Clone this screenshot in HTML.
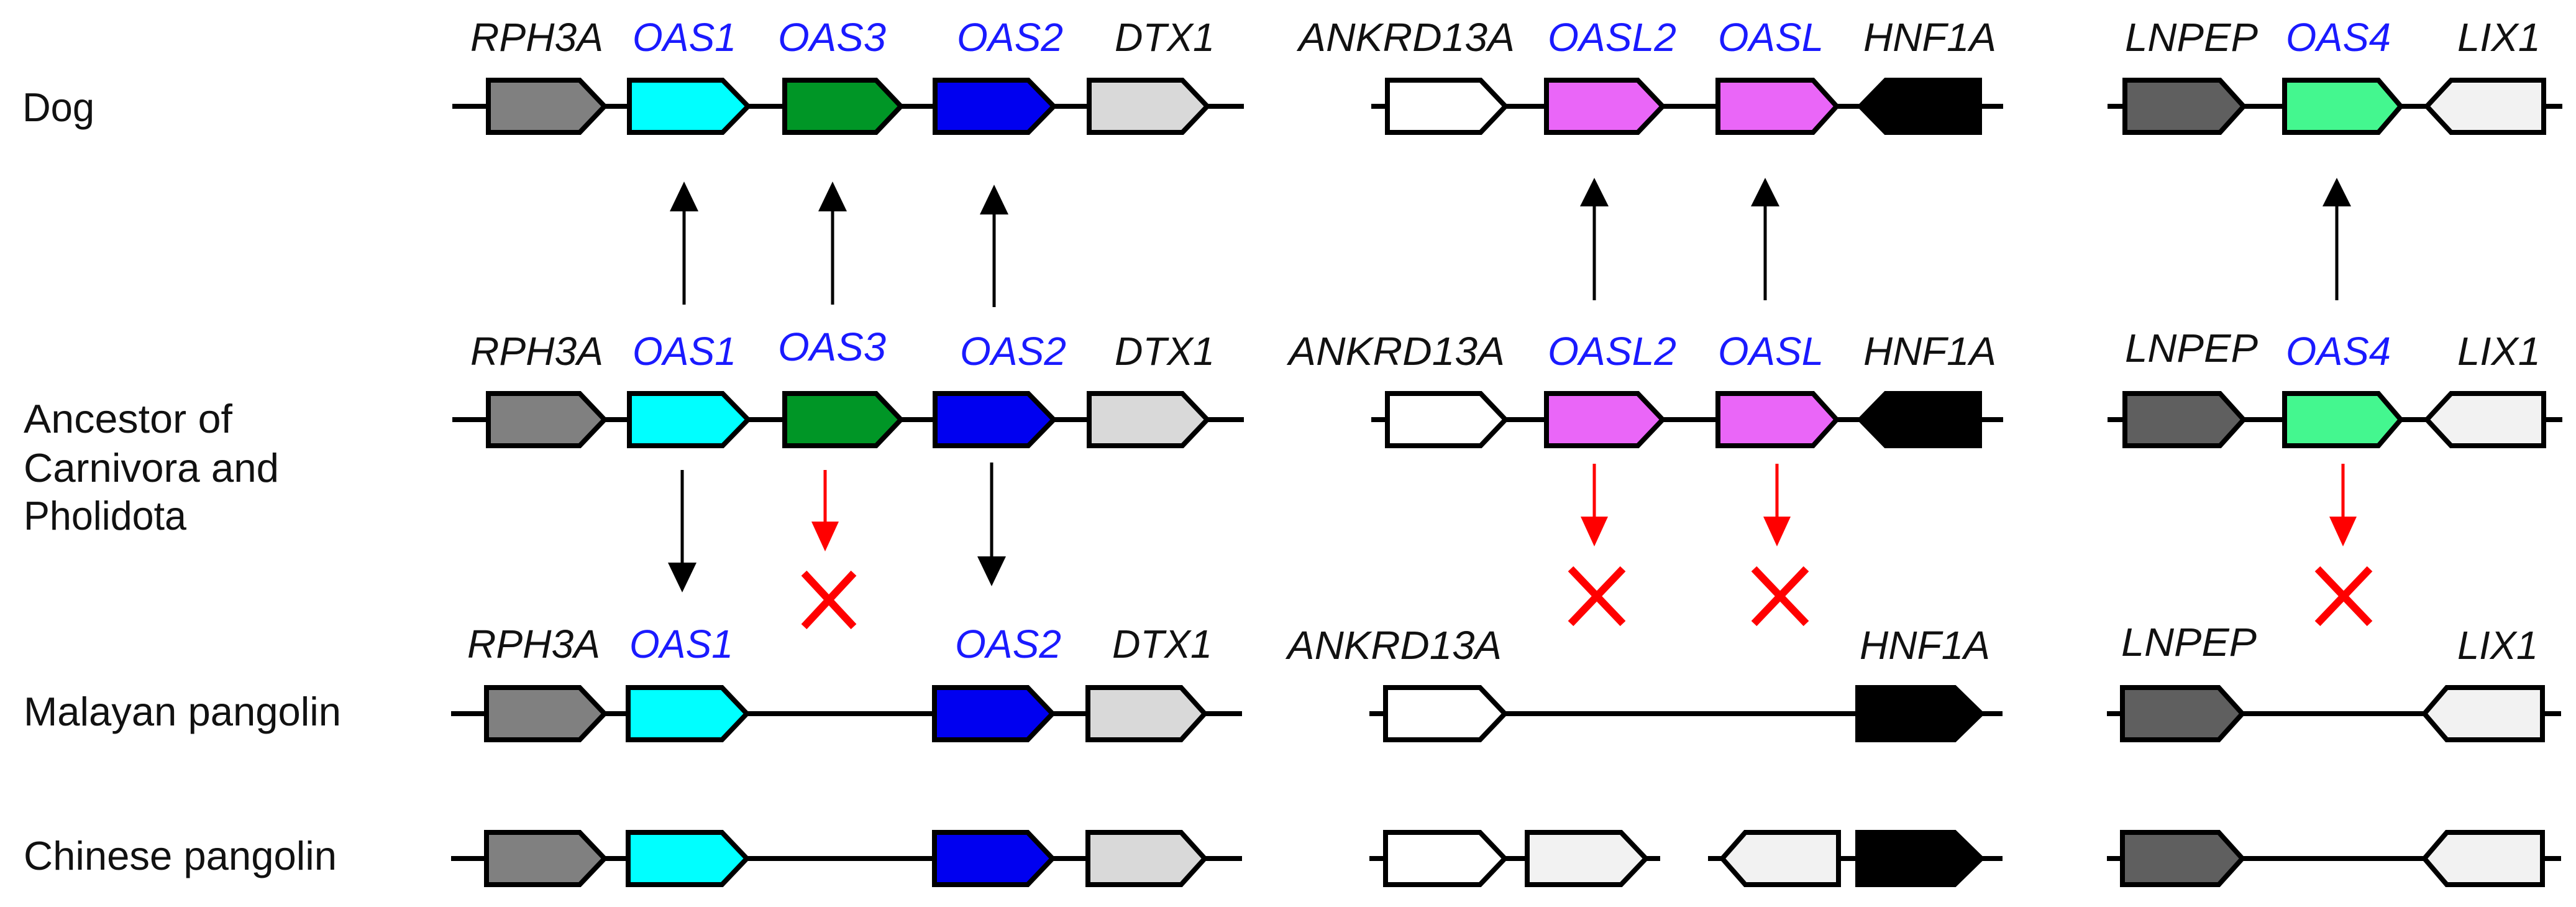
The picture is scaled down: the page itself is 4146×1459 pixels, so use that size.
<!DOCTYPE html>
<html><head><meta charset="utf-8"><style>
html,body{margin:0;padding:0;background:#fff;}
svg{display:block;}
text{font-family:"Liberation Sans",sans-serif;}
.g{font-style:italic;font-size:64px;fill:#111;}
.b{fill:#1a1aff;}
.s{font-size:65px;fill:#111;}
.ln{stroke:#000;stroke-width:8;}
.p{stroke:#000;stroke-width:8;stroke-linejoin:miter;}
.ar{stroke:#000;stroke-width:5;}
.rr{stroke:#f00;stroke-width:5;}
.x{stroke:#f00;stroke-width:12;}
</style></head><body>
<svg width="4146" height="1459" viewBox="0 0 4146 1459" xmlns="http://www.w3.org/2000/svg">
<!-- species labels -->
<text class="s" x="36" y="195" textLength="116" lengthAdjust="spacingAndGlyphs">Dog</text>
<text class="s" x="38" y="696" textLength="336" lengthAdjust="spacingAndGlyphs">Ancestor of</text>
<text class="s" x="38" y="775" textLength="411" lengthAdjust="spacingAndGlyphs">Carnivora and</text>
<text class="s" x="38" y="852" textLength="262" lengthAdjust="spacingAndGlyphs">Pholidota</text>
<text class="s" x="38" y="1167" textLength="511" lengthAdjust="spacingAndGlyphs">Malayan pangolin</text>
<text class="s" x="38" y="1399" textLength="504" lengthAdjust="spacingAndGlyphs">Chinese pangolin</text>

<!-- gene labels Dog (y=82) and Ancestor (y=587) -->
<g class="g">
<text x="757" y="82" textLength="214" lengthAdjust="spacingAndGlyphs">RPH3A</text>
<text class="b" x="1018" y="82" textLength="167" lengthAdjust="spacingAndGlyphs">OAS1</text>
<text class="b" x="1252" y="82" textLength="174" lengthAdjust="spacingAndGlyphs">OAS3</text>
<text class="b" x="1540" y="82" textLength="171" lengthAdjust="spacingAndGlyphs">OAS2</text>
<text x="1794" y="82" textLength="161" lengthAdjust="spacingAndGlyphs">DTX1</text>
<text x="2090" y="82" textLength="348" lengthAdjust="spacingAndGlyphs">ANKRD13A</text>
<text class="b" x="2491" y="82" textLength="207" lengthAdjust="spacingAndGlyphs">OASL2</text>
<text class="b" x="2765" y="82" textLength="170" lengthAdjust="spacingAndGlyphs">OASL</text>
<text x="2999" y="82" textLength="214" lengthAdjust="spacingAndGlyphs">HNF1A</text>
<text x="3420" y="82" textLength="214" lengthAdjust="spacingAndGlyphs">LNPEP</text>
<text class="b" x="3679" y="82" textLength="169" lengthAdjust="spacingAndGlyphs">OAS4</text>
<text x="3955" y="82" textLength="134" lengthAdjust="spacingAndGlyphs">LIX1</text>

<text x="757" y="587" textLength="214" lengthAdjust="spacingAndGlyphs">RPH3A</text>
<text class="b" x="1018" y="587" textLength="167" lengthAdjust="spacingAndGlyphs">OAS1</text>
<text class="b" x="1252" y="580" textLength="174" lengthAdjust="spacingAndGlyphs">OAS3</text>
<text class="b" x="1545" y="587" textLength="171" lengthAdjust="spacingAndGlyphs">OAS2</text>
<text x="1794" y="587" textLength="161" lengthAdjust="spacingAndGlyphs">DTX1</text>
<text x="2074" y="587" textLength="348" lengthAdjust="spacingAndGlyphs">ANKRD13A</text>
<text class="b" x="2491" y="587" textLength="207" lengthAdjust="spacingAndGlyphs">OASL2</text>
<text class="b" x="2765" y="587" textLength="170" lengthAdjust="spacingAndGlyphs">OASL</text>
<text x="2999" y="587" textLength="214" lengthAdjust="spacingAndGlyphs">HNF1A</text>
<text x="3420" y="582" textLength="214" lengthAdjust="spacingAndGlyphs">LNPEP</text>
<text class="b" x="3679" y="587" textLength="169" lengthAdjust="spacingAndGlyphs">OAS4</text>
<text x="3955" y="587" textLength="134" lengthAdjust="spacingAndGlyphs">LIX1</text>

<text x="752" y="1058" textLength="214" lengthAdjust="spacingAndGlyphs">RPH3A</text>
<text class="b" x="1013" y="1058" textLength="167" lengthAdjust="spacingAndGlyphs">OAS1</text>
<text class="b" x="1537" y="1058" textLength="171" lengthAdjust="spacingAndGlyphs">OAS2</text>
<text x="1790" y="1058" textLength="161" lengthAdjust="spacingAndGlyphs">DTX1</text>
<text x="2072" y="1060" textLength="345" lengthAdjust="spacingAndGlyphs">ANKRD13A</text>
<text x="2993" y="1060" textLength="210" lengthAdjust="spacingAndGlyphs">HNF1A</text>
<text x="3414" y="1055" textLength="218" lengthAdjust="spacingAndGlyphs">LNPEP</text>
<text x="3955" y="1060" textLength="130" lengthAdjust="spacingAndGlyphs">LIX1</text>
</g>

<!-- backbone lines -->
<g class="ln">
<line x1="728" y1="171" x2="2002" y2="171"/><line x1="2207" y1="171" x2="3224" y2="171"/><line x1="3392" y1="171" x2="4124" y2="171"/>
<line x1="728" y1="675" x2="2002" y2="675"/><line x1="2207" y1="675" x2="3224" y2="675"/><line x1="3392" y1="675" x2="4124" y2="675"/>
<line x1="726" y1="1148" x2="1999" y2="1148"/><line x1="2204" y1="1148" x2="3223" y2="1148"/><line x1="3391" y1="1148" x2="4122" y2="1148"/>
<line x1="726" y1="1381" x2="1999" y2="1381"/><line x1="2204" y1="1381" x2="2672" y2="1381"/><line x1="2749" y1="1381" x2="3223" y2="1381"/><line x1="3391" y1="1381" x2="4122" y2="1381"/>
</g>

<!-- Dog row c=171 -->
<g class="p">
<polygon fill="#808080" points="786,129 933,129 973,171 933,213 786,213"/>
<polygon fill="#00ffff" points="1013,129 1163,129 1204,171 1163,213 1013,213"/>
<polygon fill="#009626" points="1263,129 1410,129 1450,171 1410,213 1263,213"/>
<polygon fill="#0000f0" points="1505,129 1655,129 1696,171 1655,213 1505,213"/>
<polygon fill="#d9d9d9" points="1753,129 1903,129 1943,171 1903,213 1753,213"/>
<polygon fill="#ffffff" points="2233,129 2383,129 2423,171 2383,213 2233,213"/>
<polygon fill="#ea66f8" points="2489,129 2636,129 2676,171 2636,213 2489,213"/>
<polygon fill="#ea66f8" points="2765,129 2918,129 2956,171 2918,213 2765,213"/>
<polygon fill="#000" points="2994,171 3035,129 3186,129 3186,213 3035,213"/>
<polygon fill="#5f5f5f" points="3420,129 3573,129 3611,171 3573,213 3420,213"/>
<polygon fill="#44f78f" points="3677,129 3828,129 3864,171 3828,213 3677,213"/>
<polygon fill="#f2f2f2" points="3906,171 3945,129 4094,129 4094,213 3945,213"/>
</g>
<!-- Ancestor row c=675 -->
<g class="p">
<polygon fill="#808080" points="786,633 933,633 973,675 933,717 786,717"/>
<polygon fill="#00ffff" points="1013,633 1163,633 1204,675 1163,717 1013,717"/>
<polygon fill="#009626" points="1263,633 1410,633 1450,675 1410,717 1263,717"/>
<polygon fill="#0000f0" points="1505,633 1655,633 1696,675 1655,717 1505,717"/>
<polygon fill="#d9d9d9" points="1753,633 1903,633 1943,675 1903,717 1753,717"/>
<polygon fill="#ffffff" points="2233,633 2383,633 2423,675 2383,717 2233,717"/>
<polygon fill="#ea66f8" points="2489,633 2636,633 2676,675 2636,717 2489,717"/>
<polygon fill="#ea66f8" points="2765,633 2918,633 2956,675 2918,717 2765,717"/>
<polygon fill="#000" points="2994,675 3035,633 3186,633 3186,717 3035,717"/>
<polygon fill="#5f5f5f" points="3420,633 3573,633 3611,675 3573,717 3420,717"/>
<polygon fill="#44f78f" points="3677,633 3828,633 3864,675 3828,717 3677,717"/>
<polygon fill="#f2f2f2" points="3906,675 3945,633 4094,633 4094,717 3945,717"/>
</g>
<!-- Malayan row c=1148 -->
<g class="p">
<polygon fill="#808080" points="783,1106 933,1106 973,1148 933,1190 783,1190"/>
<polygon fill="#00ffff" points="1011,1106 1162,1106 1202,1148 1162,1190 1011,1190"/>
<polygon fill="#0000f0" points="1504,1106 1654,1106 1694,1148 1654,1190 1504,1190"/>
<polygon fill="#d9d9d9" points="1751,1106 1901,1106 1939,1148 1901,1190 1751,1190"/>
<polygon fill="#ffffff" points="2230,1106 2382,1106 2422,1148 2382,1190 2230,1190"/>
<polygon fill="#000" points="2990,1106 3146,1106 3189,1148 3146,1190 2990,1190"/>
<polygon fill="#5f5f5f" points="3416,1106 3571,1106 3609,1148 3571,1190 3416,1190"/>
<polygon fill="#f2f2f2" points="3902,1148 3938,1106 4092,1106 4092,1190 3938,1190"/>
</g>
<!-- Chinese row c=1381 -->
<g class="p">
<polygon fill="#808080" points="783,1339 933,1339 973,1381 933,1423 783,1423"/>
<polygon fill="#00ffff" points="1011,1339 1162,1339 1202,1381 1162,1423 1011,1423"/>
<polygon fill="#0000f0" points="1504,1339 1654,1339 1694,1381 1654,1423 1504,1423"/>
<polygon fill="#d9d9d9" points="1751,1339 1901,1339 1939,1381 1901,1423 1751,1423"/>
<polygon fill="#ffffff" points="2230,1339 2382,1339 2422,1381 2382,1423 2230,1423"/>
<polygon fill="#f2f2f2" points="2458,1339 2609,1339 2649,1381 2609,1423 2458,1423"/>
<polygon fill="#f2f2f2" points="2772,1381 2809,1339 2959,1339 2959,1423 2809,1423"/>
<polygon fill="#000" points="2990,1339 3146,1339 3189,1381 3146,1423 2990,1423"/>
<polygon fill="#5f5f5f" points="3416,1339 3571,1339 3609,1381 3571,1423 3416,1423"/>
<polygon fill="#f2f2f2" points="3902,1381 3938,1339 4092,1339 4092,1423 3938,1423"/>
</g>

<!-- up arrows -->
<g class="ar">
<line x1="1101" y1="490" x2="1101" y2="330"/><line x1="1340" y1="490" x2="1340" y2="330"/><line x1="1600" y1="494" x2="1600" y2="335"/>
<line x1="2566" y1="483" x2="2566" y2="325"/><line x1="2841" y1="483" x2="2841" y2="325"/><line x1="3761" y1="483" x2="3761" y2="325"/>
</g>
<g fill="#000">
<polygon points="1101,292 1078,340 1124,340"/><polygon points="1340,292 1317,340 1363,340"/><polygon points="1600,297 1577,345 1623,345"/>
<polygon points="2566,286 2543,332 2589,332"/><polygon points="2841,286 2818,332 2864,332"/><polygon points="3761,286 3738,332 3784,332"/>
</g>
<!-- black down arrows -->
<g class="ar"><line x1="1098" y1="756" x2="1098" y2="912"/><line x1="1596" y1="744" x2="1596" y2="900"/></g>
<g fill="#000"><polygon points="1098,953 1075,905 1121,905"/><polygon points="1596,943 1573,895 1619,895"/></g>
<!-- red down arrows -->
<g class="rr"><line x1="1328" y1="756" x2="1328" y2="845"/><line x1="2566" y1="746" x2="2566" y2="836"/><line x1="2860" y1="746" x2="2860" y2="836"/><line x1="3771" y1="746" x2="3771" y2="836"/></g>
<g fill="#f00">
<polygon points="1328,887 1306,839 1350,839"/><polygon points="2566,879 2544,831 2588,831"/><polygon points="2860,879 2838,831 2882,831"/><polygon points="3771,879 3749,831 3793,831"/>
</g>
<!-- X marks -->
<g class="x" stroke-linecap="butt">
<line x1="1294" y1="922" x2="1374" y2="1008"/><line x1="1374" y1="922" x2="1294" y2="1008"/>
<line x1="2528" y1="915" x2="2612" y2="1003"/><line x1="2612" y1="915" x2="2528" y2="1003"/>
<line x1="2823" y1="915" x2="2907" y2="1003"/><line x1="2907" y1="915" x2="2823" y2="1003"/>
<line x1="3730" y1="915" x2="3814" y2="1003"/><line x1="3814" y1="915" x2="3730" y2="1003"/>
</g>
</svg>
</body></html>
